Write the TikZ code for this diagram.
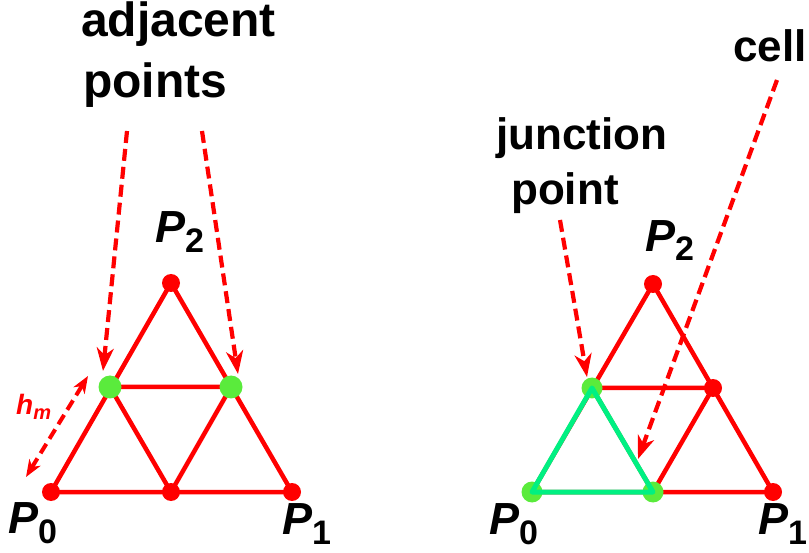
\documentclass[tikz,border=0pt]{standalone}
\usepackage{fontspec}
\setmainfont{Liberation Sans}
\usetikzlibrary{arrows.meta}
\definecolor{dotgreen}{RGB}{90,235,60}
\definecolor{cellgreen}{RGB}{0,240,130}
\newcommand\psub[2]{P\raisebox{-#2}{\upshape\fontsize{34}{34}\selectfont #1}}
\begin{document}
\begin{tikzpicture}[x=1pt,y=-1pt,
  edge/.style={red, line width=4.5pt},
  reddot/.style={circle, fill=red, inner sep=0pt, minimum size=18pt},
  greendot/.style={circle, fill=dotgreen, inner sep=0pt, minimum size=23pt},
  ptr/.style={red, line width=4.2pt, dash pattern=on 12pt off 6pt, -{Stealth[length=23pt,width=17pt,inset=7pt]}},
  hmarrow/.style={red, line width=4pt, dash pattern=on 11pt off 6pt, {Stealth[length=17pt,width=13pt,inset=5pt]}-{Stealth[length=17pt,width=13pt,inset=5pt]}},
  lbl/.style={font=\bfseries, inner sep=0pt, anchor=base west},
  plabel/.style={font=\fontsize{45}{45}\selectfont\bfseries\itshape, inner sep=0pt, anchor=base west},
]
\useasboundingbox (0,0) rectangle (809,553);

% ---------- left triangle ----------
\coordinate (L0) at (51,492);
\coordinate (L1) at (292,492);
\coordinate (L2) at (171,283);
\coordinate (LB) at (171,492);
\coordinate (LL) at (110,387);
\coordinate (LR) at (231,387);
\draw[edge, line join=round] (L0) -- (L1) -- (L2) -- cycle;
\draw[edge] (LL) -- (LR) -- (LB) -- (LL);
\node[reddot] (d0) at (L0) {};
\node[reddot] (d1) at (L1) {};
\node[reddot] (d2) at (L2) {};
\node[reddot] (db) at (LB) {};
\node[greendot] (gl) at (LL) {};
\node[greendot] (gr) at (LR) {};

% labels left
\node[lbl, font=\fontsize{48}{48}\selectfont\bfseries] (adj) at (81,37) {adjacent};
\node[lbl, font=\fontsize{48}{48}\selectfont\bfseries] (pts) at (83,98) {points};
\node[plabel] (pl0) at (8,533) {\psub{0}{10pt}};
\node[plabel] (pl1) at (282,534) {\psub{1}{10pt}};
\node[plabel] (pl2) at (155,243) {\psub{2}{10pt}};
\node[lbl, text=red, font=\fontsize{28}{28}\selectfont\bfseries\itshape] (hm) at (16,414) {h\raisebox{-5pt}{\fontsize{20}{20}\selectfont m}};

% arrows left
\coordinate (a1s) at (127,131);
\coordinate (a1e) at (103,371);
\coordinate (a2s) at (202,131);
\coordinate (a2e) at (238,374);
\coordinate (h1) at (88,376);
\coordinate (h2) at (26,477);
\draw[ptr] (a1s) -- (a1e);
\draw[ptr] (a2s) -- (a2e);
\draw[hmarrow] (h2) -- (h1);

% ---------- right triangle ----------
\coordinate (R0) at (532,492);
\coordinate (R1) at (773,492);
\coordinate (R2) at (653,284);
\coordinate (RB) at (653,492);
\coordinate (RL) at (592,388);
\coordinate (RR) at (713,388);
\draw[edge, line join=round] (R0) -- (R1) -- (R2) -- cycle;
\draw[edge] (RL) -- (RR) -- (RB) -- (RL);
\node[reddot] (e1) at (R1) {};
\node[reddot] (e2) at (R2) {};
\node[reddot] (er) at (RR) {};
\node[greendot, minimum size=21pt] (e0) at (R0) {};
\node[greendot, minimum size=21pt] (ej) at (RL) {};
\node[greendot, minimum size=21pt] (eb) at (RB) {};
\draw[cellgreen, line width=5pt, line join=round] (R0) -- (RL) -- (RB) -- cycle;

% labels right
\node[lbl, font=\fontsize{44}{44}\selectfont\bfseries] (jun) at (496,150) {junction};
\node[lbl, font=\fontsize{44}{44}\selectfont\bfseries] (jpt) at (511,205) {point};
\node[lbl, font=\fontsize{44}{44}\selectfont\bfseries] (cell) at (733,62) {cell};
\node[plabel] (pr0) at (489,534) {\psub{0}{10pt}};
\node[plabel] (pr1) at (758,534) {\psub{1}{10pt}};
\node[plabel] (pr2) at (645,252) {\psub{2}{9pt}};

% arrows right
\coordinate (a3s) at (560,220);
\coordinate (a3e) at (587,377);
\coordinate (a4s) at (777,80);
\coordinate (a4e) at (638,459);
\draw[ptr] (a3s) -- (a3e);
\draw[ptr] (a4s) -- (a4e);
\end{tikzpicture}
\end{document}
